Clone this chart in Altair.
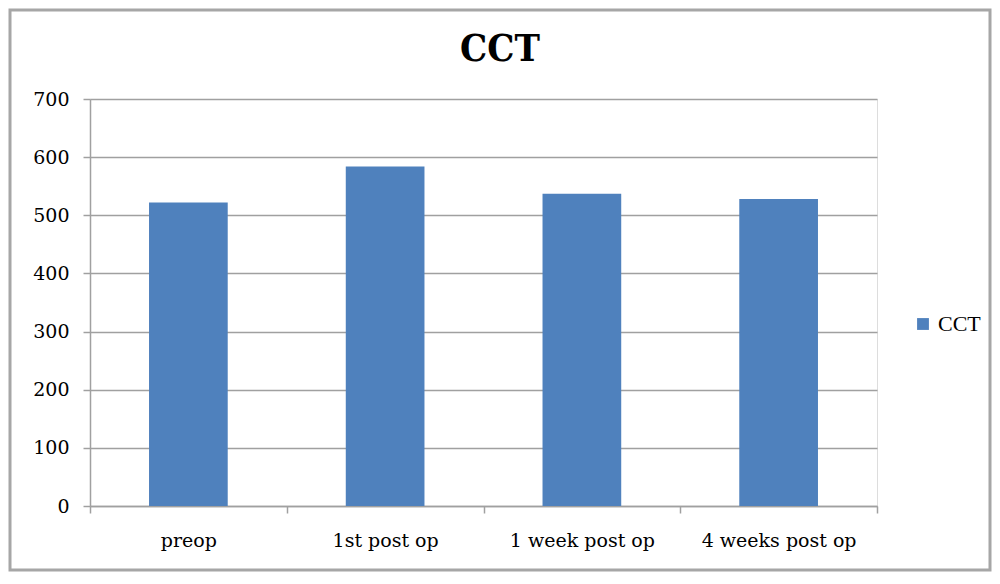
import altair as alt
import pandas as pd

categories = ["preop", "1st post op", "1 week post op", "4 weeks post op"]
values = [522, 584, 537, 528]
series = "CCT"
title_text = "CCT"

df = pd.DataFrame({"stage": categories, "value": values, "series": [series] * len(categories)})

W, H = 787, 407
PL, PT, PR, PB = 82, 91, 115, 66

bars = alt.Chart(df).mark_bar(color="#4F81BD", width=alt.RelativeBandSize(0.4)).encode(
    x=alt.X("stage:N", sort=categories,
            scale=alt.Scale(paddingInner=0, paddingOuter=0),
            axis=alt.Axis(title=None, labelAngle=0, labelFont="DejaVu Serif", labelFontSize=19,
                          labelColor="#000000", labelPadding=18, tickBand="extent",
                          tickColor="#A0A0A0", tickSize=7, tickWidth=1.5,
                          domainColor="#A0A0A0", domainWidth=1.5, grid=False)),
    y=alt.Y("value:Q", scale=alt.Scale(domain=[0, 700]),
            axis=alt.Axis(title=None, values=[0, 100, 200, 300, 400, 500, 600, 700],
                          labelFont="DejaVu Serif", labelFontSize=19, labelColor="#000000",
                          labelPadding=14, tickColor="#A0A0A0", tickSize=7, tickWidth=1.5,
                          domainColor="#A0A0A0", domainWidth=1.5,
                          gridColor="#A0A0A0", gridWidth=1.5)),
    fill=alt.Fill("series:N", scale=alt.Scale(range=["#4F81BD"]),
                  legend=alt.Legend(title=None, orient="none", legendX=822, legendY=214,
                                    symbolType="square", symbolSize=140,
                                    labelFont="Liberation Serif", labelFontSize=22,
                                    labelColor="#000000")),
)

one = pd.DataFrame({"t": [title_text]})
frame = alt.Chart(one).mark_rect(fill=None, stroke="#A6A6A6", strokeWidth=3).encode(
    x=alt.value(-PL + 2), x2=alt.value(W + PR - 2),
    y=alt.value(-PT + 2), y2=alt.value(H + PB - 2),
)

title = alt.Chart(one).mark_text(font="DejaVu Serif Condensed", fontSize=38, fontWeight="bold",
                                 color="#000000", align="center", baseline="alphabetic").encode(
    text="t:N", x=alt.value(410), y=alt.value(-38),
)

chart = alt.layer(bars, frame, title).properties(
    width=W, height=H,
    autosize=alt.AutoSizeParams(type="none"),
    padding={"left": PL, "top": PT, "right": PR, "bottom": PB},
).configure_view(stroke=None).configure(background="white")

chart.save("out.html", embed_options={"renderer": "svg", "actions": False})
